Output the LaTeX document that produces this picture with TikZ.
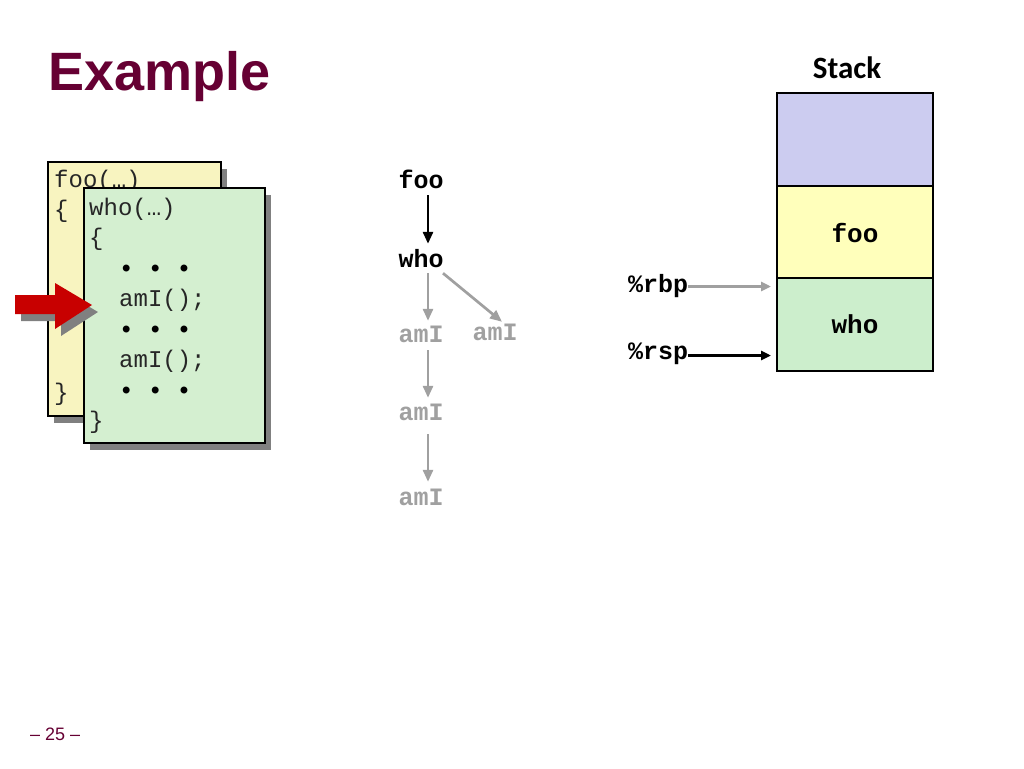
\documentclass[tikz,border=0pt]{standalone}
\usepackage{fontspec}
\setmainfont{Liberation Sans}
\setmonofont{Liberation Mono}
\newfontfamily\carlito{Carlito}
\usetikzlibrary{arrows.meta}
\definecolor{maroon}{RGB}{102,0,51}
\definecolor{stlav}{RGB}{204,204,240}
\definecolor{styel}{RGB}{255,255,187}
\definecolor{stgrn}{RGB}{204,238,204}
\definecolor{codeyel}{RGB}{248,244,192}
\definecolor{codegrn}{RGB}{212,239,208}
\definecolor{shadowgray}{RGB}{128,128,128}
\definecolor{treegray}{RGB}{160,160,160}
\definecolor{arrowred}{RGB}{200,0,0}
\tikzset{
  codetxt/.style={anchor=base west, inner sep=0pt, font=\fontsize{24}{24}\selectfont\ttfamily, text=black!85},
  dotstxt/.style={anchor=base west, inner sep=0pt, font=\fontsize{24}{24}\selectfont\ttfamily\bfseries, text=black},
  treenode/.style={anchor=base, inner sep=0pt, text height=14pt, text depth=0pt, font=\fontsize{25}{25}\selectfont\ttfamily\bfseries},
  treeblack/.style={treenode, text=black},
  treegraynode/.style={treenode, text=treegray},
  stacklbl/.style={anchor=base, inner sep=0pt, font=\fontsize{26}{26}\selectfont\ttfamily\bfseries},
  reglbl/.style={anchor=base west, inner sep=0pt, font=\fontsize{25}{25}\selectfont\ttfamily\bfseries},
  blackarr/.style={draw=black, line width=2.7pt, -{Triangle[length=12pt,width=10pt]}},
  grayarr/.style={draw=treegray, line width=2.7pt, -{Triangle[length=12pt,width=10pt]}},
  regarr/.style={line width=3pt, -{Triangle[length=10pt,width=9pt]}},
  stackcell/.style={draw=black, line width=2.9pt},
  codebox/.style={draw=black, line width=1.8pt},
}
\begin{document}
\begin{tikzpicture}[x=1pt,y=-1pt]
\useasboundingbox (0,0) rectangle (1024,768);

% Title
\node[anchor=base west, inner sep=0pt, text=maroon, font=\fontsize{54}{54}\selectfont\bfseries] (title) at (48,90) {Example};
\node[anchor=base, inner sep=0pt, font=\fontsize{31}{31}\selectfont\carlito\bfseries] (stacktitle) at (847,78) {Stack};
\node[anchor=base west, inner sep=0pt, text=maroon, font=\fontsize{18}{18}\selectfont] (pagenum) at (30,740) {– 25 –};

% foo code box
\fill[shadowgray] (54,169) rectangle (227,423);
\filldraw[codebox, fill=codeyel] (48,162) rectangle (221,416);
\node[codetxt] (fooh) at (54,187) {foo(…)};
\node[codetxt] (foob1) at (54,217) {\{};
\node[codetxt] (foob2) at (54,400) {\}};

% who code box
\fill[shadowgray] (90,195) rectangle (271,450);
\filldraw[codebox, fill=codegrn] (84,188) rectangle (265,443);
\node[codetxt] (whoh) at (89,215) {who(…)};
\node[codetxt] (whob1) at (89,245.5) {\{};
\node[dotstxt] (d1) at (119,276) {• • •};
\node[codetxt] (c1) at (119,306.5) {amI();};
\node[dotstxt] (d2) at (119,337) {• • •};
\node[codetxt] (c2) at (119,367.5) {amI();};
\node[dotstxt] (d3) at (119,398) {• • •};
\node[codetxt] (whob2) at (89,428.5) {\}};

% red arrow
\fill[shadowgray] (21,302) -- (61,302) -- (61,290) -- (98,312) -- (61,336) -- (61,321) -- (21,321) -- cycle;
\fill[arrowred] (15,295) -- (55,295) -- (55,283) -- (92,305) -- (55,329) -- (55,314) -- (15,314) -- cycle;

% call tree
\node[treeblack] (tfoo) at (421,188) {foo};
\node[treeblack] (twho) at (421,267) {who};
\node[treegraynode] (ta1) at (421,342) {amI};
\node[treegraynode] (tb1) at (495,340) {amI};
\node[treegraynode] (ta2) at (421,420) {amI};
\node[treegraynode] (ta3) at (421,505) {amI};
\draw[blackarr, shorten <=7pt, shorten >=9pt] ([xshift=7pt]tfoo.south) -- ([xshift=7pt]twho.north);
\draw[grayarr, shorten <=6pt, shorten >=7pt] ([xshift=7pt]twho.south) -- ([xshift=7pt]ta1.north);
\draw[grayarr] ([xshift=22pt,yshift=-6pt]twho.south) -- ([xshift=7pt,yshift=4pt]tb1.north);
\draw[grayarr, shorten <=8pt, shorten >=8pt] ([xshift=7pt]ta1.south) -- ([xshift=7pt]ta2.north);
\draw[grayarr, shorten <=14pt, shorten >=9pt] ([xshift=7pt]ta2.south) -- ([xshift=7pt]ta3.north);

% stack
\filldraw[stackcell, fill=stlav] (777,93) rectangle (933,186);
\filldraw[stackcell, fill=styel] (777,186) rectangle (933,278);
\filldraw[stackcell, fill=stgrn] (777,278) rectangle (933,371);
\node[stacklbl] (sfoo) at (855,242) {foo};
\node[stacklbl] (swho) at (855,333) {who};

\node[reglbl] (rbp) at (628,292) {\%rbp};
\node[reglbl] (rsp) at (628,359) {\%rsp};
\coordinate (rbpend) at (771,286.5);
\coordinate (rspend) at (771,355.5);
\draw[regarr, draw=treegray] (rbp.east |- rbpend) -- (rbpend);
\draw[regarr, draw=black] (rsp.east |- rspend) -- (rspend);
\end{tikzpicture}
\end{document}
